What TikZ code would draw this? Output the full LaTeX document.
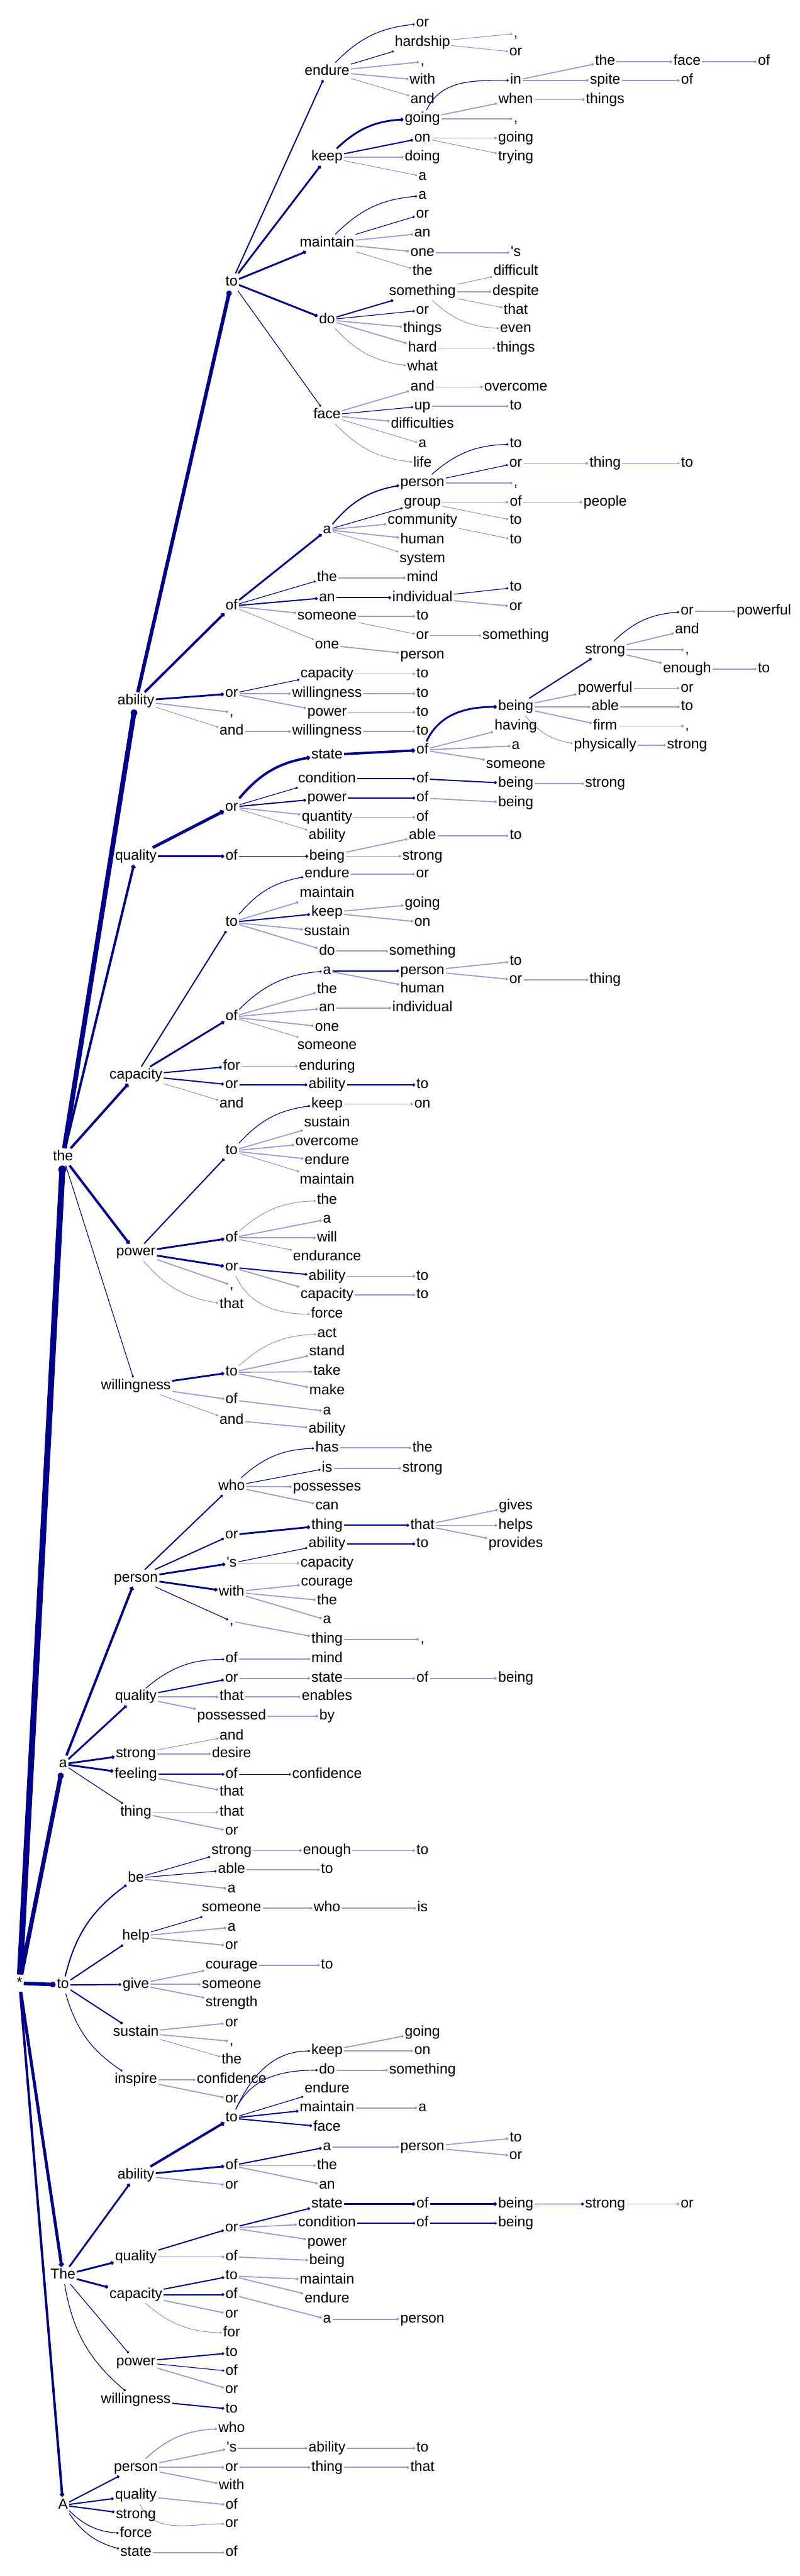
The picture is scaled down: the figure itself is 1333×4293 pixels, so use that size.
\documentclass[tikz,border=0pt]{standalone}
\usepackage{fontspec}
\setmainfont{Liberation Sans}
\usetikzlibrary{arrows.meta}
\definecolor{linkc}{HTML}{00008B}
\newcommand{\wrd}[6][w2]{%
  \pgfmathsetmacro{\colx}{{32.5,105,226.5,386,545,704,859.5,1008.5,1145,1273}[#4]}%
  \node[word] (#2) at (\colx,#5) {#6};
  \draw[#1] (#3) to (#2);}

\begin{document}
\begin{tikzpicture}[x=0.5pt,y=-0.5pt,
  word/.style={font=\fontsize{12}{14}\selectfont,inner xsep=1pt,inner ysep=1.5pt,text height=8.5pt,text depth=2.5pt},
  lk/.style={draw=linkc,-{Circle[length=1.2pt 1.1]}},
  w1/.style={lk,line width=.5pt,draw=linkc!45},
  w2/.style={lk,line width=.9pt,draw=linkc!40},
  w3/.style={lk,line width=.6pt},
  w4/.style={lk,line width=1pt},
  w5/.style={lk,line width=1.5pt},
  w6/.style={lk,line width=2pt},
  w7/.style={lk,line width=2.5pt},
  w8/.style={lk,line width=3pt},
  w9/.style={lk,line width=3.5pt},
  cu/.style={bend left=20},
  cd/.style={bend right=20},
  su/.style={out=65,in=180},
  sd/.style={out=-65,in=180}]
\useasboundingbox (0,0) rectangle (1333,4293);
\node[word] (r) at (32.5,3305) {*};
\wrd[lk,line width=5pt]{r1}{r}{1}{1928}{the}
\wrd[lk,line width=4pt]{r11}{r1}{2}{1168}{ability}
\wrd[w8]{r111}{r11}{3}{470}{to}
\wrd[w4]{r1111}{r111}{4}{119}{endure}
\wrd[w3,cu]{r11111}{r1111}{5}{39}{or}
\wrd[w3]{r11112}{r1111}{5}{71}{hardship}
\wrd[w1]{r111121}{r11112}{6}{56}{,}
\wrd[w1]{r111122}{r11112}{6}{87}{or}
\wrd{r11113}{r1111}{5}{103}{,}
\wrd{r11114}{r1111}{5}{134}{with}
\wrd[w1]{r11115}{r1111}{5}{166}{and}
\wrd[w5]{r1112}{r111}{4}{262}{keep}
\wrd[w5,cu]{r11121}{r1112}{5}{198}{going}
\wrd[w3,su]{r111211}{r11121}{6}{134}{in}
\wrd{r1112111}{r111211}{7}{103}{the}
\wrd{r11121111}{r1112111}{8}{103}{face}
\wrd{r111211111}{r11121111}{9}{103}{of}
\wrd{r1112112}{r111211}{7}{134}{spite}
\wrd{r11121121}{r1112112}{8}{134}{of}
\wrd{r111212}{r11121}{6}{166}{when}
\wrd{r1112121}{r111212}{7}{166}{things}
\wrd{r111213}{r11121}{6}{198}{,}
\wrd[w4]{r11122}{r1112}{5}{230}{on}
\wrd{r111221}{r11122}{6}{230}{going}
\wrd[w1]{r111222}{r11122}{6}{262}{trying}
\wrd{r11123}{r1112}{5}{262}{doing}
\wrd[w1]{r11124}{r1112}{5}{294}{a}
\wrd[w5]{r1113}{r111}{4}{405}{maintain}
\wrd[w3,cu]{r11131}{r1113}{5}{326}{a}
\wrd[w3]{r11132}{r1113}{5}{357}{or}
\wrd{r11133}{r1113}{5}{389}{an}
\wrd{r11134}{r1113}{5}{421}{one}
\wrd{r111341}{r11134}{6}{421}{\textquotesingle s}
\wrd[w1]{r11135}{r1113}{5}{453}{the}
\wrd[w5]{r1114}{r111}{4}{533}{do}
\wrd[w4]{r11141}{r1114}{5}{486}{something}
\wrd[w1]{r111411}{r11141}{6}{453}{difficult}
\wrd{r111412}{r11141}{6}{486}{despite}
\wrd[w1]{r111413}{r11141}{6}{517}{that}
\wrd[w1,cd]{r111414}{r11141}{6}{548}{even}
\wrd[w3]{r11142}{r1114}{5}{517}{or}
\wrd{r11143}{r1114}{5}{548}{things}
\wrd{r11144}{r1114}{5}{580}{hard}
\wrd{r111441}{r11144}{6}{580}{things}
\wrd[w1,cd]{r11145}{r1114}{5}{612}{what}
\wrd[w3]{r1115}{r111}{4}{692}{face}
\wrd{r11151}{r1115}{5}{645}{and}
\wrd{r111511}{r11151}{6}{645}{overcome}
\wrd[w3]{r11152}{r1115}{5}{677}{up}
\wrd{r111521}{r11152}{6}{677}{to}
\wrd{r11153}{r1115}{5}{707}{difficulties}
\wrd[w1]{r11154}{r1115}{5}{740}{a}
\wrd[w1,cd]{r11155}{r1115}{5}{772}{life}
\wrd[w6]{r112}{r11}{3}{1010}{of}
\wrd[w5]{r1121}{r112}{4}{883}{a}
\wrd[w4,cu]{r11211}{r1121}{5}{805}{person}
\wrd[w3,cu]{r112111}{r11211}{6}{740}{to}
\wrd[w3]{r112112}{r11211}{6}{772}{or}
\wrd{r1121121}{r112112}{7}{772}{thing}
\wrd[w1]{r11211211}{r1121121}{8}{772}{to}
\wrd{r112113}{r11211}{6}{805}{,}
\wrd[w3]{r11212}{r1121}{5}{837}{group}
\wrd{r112121}{r11212}{6}{837}{of}
\wrd{r1121211}{r112121}{7}{837}{people}
\wrd[w1]{r112122}{r11212}{6}{868}{to}
\wrd{r11213}{r1121}{5}{868}{community}
\wrd[w1]{r112131}{r11213}{6}{900}{to}
\wrd{r11214}{r1121}{5}{900}{human}
\wrd[w1]{r11215}{r1121}{5}{932}{system}
\wrd[w3]{r1122}{r112}{4}{963}{the}
\wrd{r11221}{r1122}{5}{963}{mind}
\wrd[w4]{r1123}{r112}{4}{996}{an}
\wrd[w4]{r11231}{r1123}{5}{996}{individual}
\wrd[w3]{r112311}{r11231}{6}{979}{to}
\wrd{r112312}{r11231}{6}{1011}{or}
\wrd{r1124}{r112}{4}{1027}{someone}
\wrd{r11241}{r1124}{5}{1027}{to}
\wrd[w1]{r11242}{r1124}{5}{1059}{or}
\wrd{r112421}{r11242}{6}{1059}{something}
\wrd[w1]{r1125}{r112}{4}{1075}{one}
\wrd{r11251}{r1125}{5}{1092}{person}
\wrd[w5]{r113}{r11}{3}{1156}{or}
\wrd[w3]{r1131}{r113}{4}{1123}{capacity}
\wrd{r11311}{r1131}{5}{1123}{to}
\wrd{r1132}{r113}{4}{1156}{willingness}
\wrd{r11321}{r1132}{5}{1156}{to}
\wrd{r1133}{r113}{4}{1187}{power}
\wrd{r11331}{r1133}{5}{1187}{to}
\wrd{r114}{r11}{3}{1187}{,}
\wrd[w1]{r115}{r11}{3}{1219}{and}
\wrd{r1151}{r115}{4}{1219}{willingness}
\wrd{r11511}{r1151}{5}{1219}{to}
\wrd[w6]{r12}{r1}{2}{1427}{quality}
\wrd[w7]{r121}{r12}{3}{1345}{or}
\wrd[w6,cu]{r1211}{r121}{4}{1258}{state}
\wrd[w6]{r12111}{r1211}{5}{1250}{of}
\wrd[w5,su]{r121111}{r12111}{6}{1178}{being}
\wrd[w4]{r1211111}{r121111}{7}{1083}{strong}
\wrd[w3,cu]{r12111111}{r1211111}{8}{1019}{or}
\wrd{r121111111}{r12111111}{9}{1019}{powerful}
\wrd{r12111112}{r1211111}{8}{1050}{and}
\wrd{r12111113}{r1211111}{8}{1083}{,}
\wrd{r12111114}{r1211111}{8}{1115}{enough}
\wrd{r121111141}{r12111114}{9}{1115}{to}
\wrd{r1211112}{r121111}{7}{1147}{powerful}
\wrd{r12111121}{r1211112}{8}{1147}{or}
\wrd{r1211113}{r121111}{7}{1178}{able}
\wrd{r12111131}{r1211113}{8}{1178}{to}
\wrd{r1211114}{r121111}{7}{1210}{firm}
\wrd{r12111141}{r1211114}{8}{1210}{,}
\wrd[w1,cd]{r1211115}{r121111}{7}{1242}{physically}
\wrd{r12111151}{r1211115}{8}{1242}{strong}
\wrd{r121112}{r12111}{6}{1210}{having}
\wrd{r121113}{r12111}{6}{1243}{a}
\wrd{r121114}{r12111}{6}{1274}{someone}
\wrd[w3]{r1212}{r121}{4}{1298}{condition}
\wrd[w4]{r12121}{r1212}{5}{1298}{of}
\wrd[w4]{r121211}{r12121}{6}{1306}{being}
\wrd{r1212111}{r121211}{7}{1306}{strong}
\wrd[w4]{r1213}{r121}{4}{1330}{power}
\wrd[w4]{r12131}{r1213}{5}{1330}{of}
\wrd{r121311}{r12131}{6}{1338}{being}
\wrd{r1214}{r121}{4}{1362}{quantity}
\wrd{r12141}{r1214}{5}{1362}{of}
\wrd[w1]{r1215}{r121}{4}{1393}{ability}
\wrd[w5]{r122}{r12}{3}{1427}{of}
\wrd[w4]{r1221}{r122}{4}{1427}{being}
\wrd{r12211}{r1221}{5}{1393}{able}
\wrd{r122111}{r12211}{6}{1393}{to}
\wrd{r12212}{r1221}{5}{1427}{strong}
\wrd[w6]{r13}{r1}{2}{1792}{capacity}
\wrd[w4]{r131}{r13}{3}{1537}{to}
\wrd[w3,cu]{r1311}{r131}{4}{1457}{endure}
\wrd{r13111}{r1311}{5}{1457}{or}
\wrd{r1312}{r131}{4}{1489}{maintain}
\wrd[w4]{r1313}{r131}{4}{1521}{keep}
\wrd{r13131}{r1313}{5}{1506}{going}
\wrd{r13132}{r1313}{5}{1537}{on}
\wrd{r1314}{r131}{4}{1553}{sustain}
\wrd{r1315}{r131}{4}{1585}{do}
\wrd{r13151}{r1315}{5}{1585}{something}
\wrd[w5]{r132}{r13}{3}{1695}{of}
\wrd[w3,cu]{r1321}{r132}{4}{1618}{a}
\wrd[w4]{r13211}{r1321}{5}{1618}{person}
\wrd{r132111}{r13211}{6}{1602}{to}
\wrd{r132112}{r13211}{6}{1633}{or}
\wrd{r1321121}{r132112}{7}{1633}{thing}
\wrd{r13212}{r1321}{5}{1648}{human}
\wrd{r1322}{r132}{4}{1649}{the}
\wrd{r1323}{r132}{4}{1680}{an}
\wrd{r13231}{r1323}{5}{1680}{individual}
\wrd{r1324}{r132}{4}{1712}{one}
\wrd[w1]{r1325}{r132}{4}{1743}{someone}
\wrd[w4]{r133}{r13}{3}{1777}{for}
\wrd{r1331}{r133}{4}{1777}{enduring}
\wrd[w4]{r134}{r13}{3}{1808}{or}
\wrd[w4]{r1341}{r134}{4}{1808}{ability}
\wrd[w4]{r13411}{r1341}{5}{1808}{to}
\wrd[w1]{r135}{r13}{3}{1840}{and}
\wrd[w6]{r14}{r1}{2}{2087}{power}
\wrd[w4]{r141}{r14}{3}{1918}{to}
\wrd[w3,cu]{r1411}{r141}{4}{1840}{keep}
\wrd{r14111}{r1411}{5}{1840}{on}
\wrd{r1412}{r141}{4}{1872}{sustain}
\wrd{r1413}{r141}{4}{1903}{overcome}
\wrd{r1414}{r141}{4}{1935}{endure}
\wrd[w1]{r1415}{r141}{4}{1967}{maintain}
\wrd[w5]{r142}{r14}{3}{2063}{of}
\wrd[w1,cu]{r1421}{r142}{4}{2001}{the}
\wrd{r1422}{r142}{4}{2032}{a}
\wrd{r1423}{r142}{4}{2063}{will}
\wrd[w1]{r1424}{r142}{4}{2095}{endurance}
\wrd[w5]{r143}{r14}{3}{2112}{or}
\wrd[w4]{r1431}{r143}{4}{2127}{ability}
\wrd{r14311}{r1431}{5}{2127}{to}
\wrd{r1432}{r143}{4}{2158}{capacity}
\wrd{r14321}{r1432}{5}{2158}{to}
\wrd[w1,sd]{r1433}{r143}{4}{2190}{force}
\wrd{r144}{r14}{3}{2142}{,}
\wrd[w1,cd]{r145}{r14}{3}{2175}{that}
\wrd[w3]{r15}{r1}{2}{2310}{willingness}
\wrd[w5]{r151}{r15}{3}{2287}{to}
\wrd[w1,cu]{r1511}{r151}{4}{2223}{act}
\wrd{r1512}{r151}{4}{2253}{stand}
\wrd{r1513}{r151}{4}{2286}{take}
\wrd{r1514}{r151}{4}{2318}{make}
\wrd{r152}{r15}{3}{2333}{of}
\wrd{r1521}{r152}{4}{2352}{a}
\wrd[w1]{r153}{r15}{3}{2367}{and}
\wrd{r1531}{r153}{4}{2382}{ability}
\wrd[w9]{r2}{r}{1}{2940}{a}
\wrd[w6]{r21}{r2}{2}{2630}{person}
\wrd[w4]{r211}{r21}{3}{2477}{who}
\wrd[w3,cu]{r2111}{r211}{4}{2413}{has}
\wrd{r21111}{r2111}{5}{2413}{the}
\wrd[w3]{r2112}{r211}{4}{2447}{is}
\wrd{r21121}{r2112}{5}{2447}{strong}
\wrd{r2113}{r211}{4}{2478}{possesses}
\wrd{r2114}{r211}{4}{2510}{can}
\wrd[w4]{r212}{r21}{3}{2558}{or}
\wrd[w5]{r2121}{r212}{4}{2542}{thing}
\wrd[w4]{r21211}{r2121}{5}{2542}{that}
\wrd{r212111}{r21211}{6}{2510}{gives}
\wrd{r212112}{r21211}{6}{2542}{helps}
\wrd{r212113}{r21211}{6}{2573}{provides}
\wrd[w5]{r213}{r21}{3}{2605}{\textquotesingle s}
\wrd[w3]{r2131}{r213}{4}{2573}{ability}
\wrd[w4]{r21311}{r2131}{5}{2573}{to}
\wrd{r2132}{r213}{4}{2605}{capacity}
\wrd[w5]{r214}{r21}{3}{2653}{with}
\wrd{r2141}{r214}{4}{2637}{courage}
\wrd{r2142}{r214}{4}{2668}{the}
\wrd{r2143}{r214}{4}{2700}{a}
\wrd[w3]{r215}{r21}{3}{2702}{,}
\wrd{r2151}{r215}{4}{2732}{thing}
\wrd{r21511}{r2151}{5}{2732}{,}
\wrd[w5]{r22}{r2}{2}{2828}{quality}
\wrd[w3,cu]{r221}{r22}{3}{2765}{of}
\wrd{r2211}{r221}{4}{2765}{mind}
\wrd[w4]{r222}{r22}{3}{2797}{or}
\wrd{r2221}{r222}{4}{2797}{state}
\wrd{r22211}{r2221}{5}{2797}{of}
\wrd{r222111}{r22211}{6}{2797}{being}
\wrd{r223}{r22}{3}{2828}{that}
\wrd{r2231}{r223}{4}{2828}{enables}
\wrd{r224}{r22}{3}{2860}{possessed}
\wrd{r2241}{r224}{4}{2860}{by}
\wrd[w5]{r23}{r2}{2}{2923}{strong}
\wrd[w1]{r231}{r23}{3}{2893}{and}
\wrd{r232}{r23}{3}{2923}{desire}
\wrd[w5]{r24}{r2}{2}{2957}{feeling}
\wrd[w4]{r241}{r24}{3}{2957}{of}
\wrd[w3]{r2411}{r241}{4}{2957}{confidence}
\wrd{r242}{r24}{3}{2987}{that}
\wrd[w3]{r25}{r2}{2}{3020}{thing}
\wrd{r251}{r25}{3}{3020}{that}
\wrd{r252}{r25}{3}{3052}{or}
\wrd[w8]{r3}{r}{1}{3308}{to}
\wrd[w4,cu]{r31}{r3}{2}{3130}{be}
\wrd[w3]{r311}{r31}{3}{3084}{strong}
\wrd{r3111}{r311}{4}{3084}{enough}
\wrd{r31111}{r3111}{5}{3084}{to}
\wrd[w3]{r312}{r31}{3}{3116}{able}
\wrd{r3121}{r312}{4}{3116}{to}
\wrd{r313}{r31}{3}{3148}{a}
\wrd[w4]{r32}{r3}{2}{3227}{help}
\wrd[w3]{r321}{r32}{3}{3180}{someone}
\wrd{r3211}{r321}{4}{3180}{who}
\wrd{r32111}{r3211}{5}{3180}{is}
\wrd{r322}{r32}{3}{3212}{a}
\wrd{r323}{r32}{3}{3243}{or}
\wrd[w4]{r33}{r3}{2}{3307}{give}
\wrd{r331}{r33}{3}{3275}{courage}
\wrd{r3311}{r331}{4}{3275}{to}
\wrd{r332}{r33}{3}{3307}{someone}
\wrd{r333}{r33}{3}{3338}{strength}
\wrd[w4]{r34}{r3}{2}{3387}{sustain}
\wrd{r341}{r34}{3}{3371}{or}
\wrd{r342}{r34}{3}{3402}{,}
\wrd[w1]{r343}{r34}{3}{3433}{the}
\wrd[w3,cd]{r35}{r3}{2}{3466}{inspire}
\wrd{r351}{r35}{3}{3466}{confidence}
\wrd{r352}{r35}{3}{3498}{or}
\wrd[w7]{r4}{r}{1}{3792}{The}
\wrd[w5]{r41}{r4}{2}{3625}{ability}
\wrd[w6]{r411}{r41}{3}{3530}{to}
\wrd[w3,su]{r4111}{r411}{4}{3418}{keep}
\wrd{r41111}{r4111}{5}{3387}{going}
\wrd{r41112}{r4111}{5}{3418}{on}
\wrd[w3,su]{r4112}{r411}{4}{3450}{do}
\wrd{r41121}{r4112}{5}{3450}{something}
\wrd[w3]{r4113}{r411}{4}{3482}{endure}
\wrd[w4]{r4114}{r411}{4}{3513}{maintain}
\wrd{r41141}{r4114}{5}{3513}{a}
\wrd[w4]{r4115}{r411}{4}{3545}{face}
\wrd[w5]{r412}{r41}{3}{3609}{of}
\wrd[w4]{r4121}{r412}{4}{3578}{a}
\wrd{r41211}{r4121}{5}{3578}{person}
\wrd{r412111}{r41211}{6}{3563}{to}
\wrd{r412112}{r41211}{6}{3593}{or}
\wrd{r4122}{r412}{4}{3609}{the}
\wrd{r4123}{r412}{4}{3642}{an}
\wrd{r413}{r41}{3}{3642}{or}
\wrd[w5]{r42}{r4}{2}{3761}{quality}
\wrd[w4]{r421}{r42}{3}{3713}{or}
\wrd[w4]{r4211}{r421}{4}{3673}{state}
\wrd[w5]{r42111}{r4211}{5}{3673}{of}
\wrd[w5]{r421111}{r42111}{6}{3673}{being}
\wrd[w4]{r4211111}{r421111}{7}{3673}{strong}
\wrd{r42111111}{r4211111}{8}{3673}{or}
\wrd{r4212}{r421}{4}{3705}{condition}
\wrd[w3]{r42121}{r4212}{5}{3705}{of}
\wrd[w3]{r421211}{r42121}{6}{3705}{being}
\wrd{r4213}{r421}{4}{3737}{power}
\wrd{r422}{r42}{3}{3761}{of}
\wrd{r4221}{r422}{4}{3768}{being}
\wrd[w5]{r43}{r4}{2}{3824}{capacity}
\wrd[w4]{r431}{r43}{3}{3793}{to}
\wrd{r4311}{r431}{4}{3800}{maintain}
\wrd{r4312}{r431}{4}{3832}{endure}
\wrd[w4]{r432}{r43}{3}{3824}{of}
\wrd{r4321}{r432}{4}{3865}{a}
\wrd{r43211}{r4321}{5}{3865}{person}
\wrd{r433}{r43}{3}{3857}{or}
\wrd[w1,cd]{r434}{r43}{3}{3888}{for}
\wrd[w3]{r44}{r4}{2}{3936}{power}
\wrd[w4]{r441}{r44}{3}{3921}{to}
\wrd[w3]{r442}{r44}{3}{3952}{of}
\wrd{r443}{r44}{3}{3983}{or}
\wrd[w3,cd]{r45}{r4}{2}{3999}{willingness}
\wrd[w4]{r451}{r45}{3}{4015}{to}
\wrd[w6]{r5}{r}{1}{4175}{A}
\wrd[w4]{r51}{r5}{2}{4112}{person}
\wrd[w2,cu]{r511}{r51}{3}{4047}{who}
\wrd{r512}{r51}{3}{4080}{\textquotesingle s}
\wrd{r5121}{r512}{4}{4080}{ability}
\wrd{r51211}{r5121}{5}{4080}{to}
\wrd{r513}{r51}{3}{4112}{or}
\wrd{r5131}{r513}{4}{4112}{thing}
\wrd{r51311}{r5131}{5}{4112}{that}
\wrd{r514}{r51}{3}{4143}{with}
\wrd[w4]{r52}{r5}{2}{4159}{quality}
\wrd{r521}{r52}{3}{4175}{of}
\wrd[w1,sd]{r522}{r52}{3}{4206}{or}
\wrd[w4]{r53}{r5}{2}{4191}{strong}
\wrd[w3,cd]{r54}{r5}{2}{4222}{force}
\wrd[w3,cd]{r55}{r5}{2}{4254}{state}
\wrd{r551}{r55}{3}{4254}{of}
\end{tikzpicture}
\end{document}
